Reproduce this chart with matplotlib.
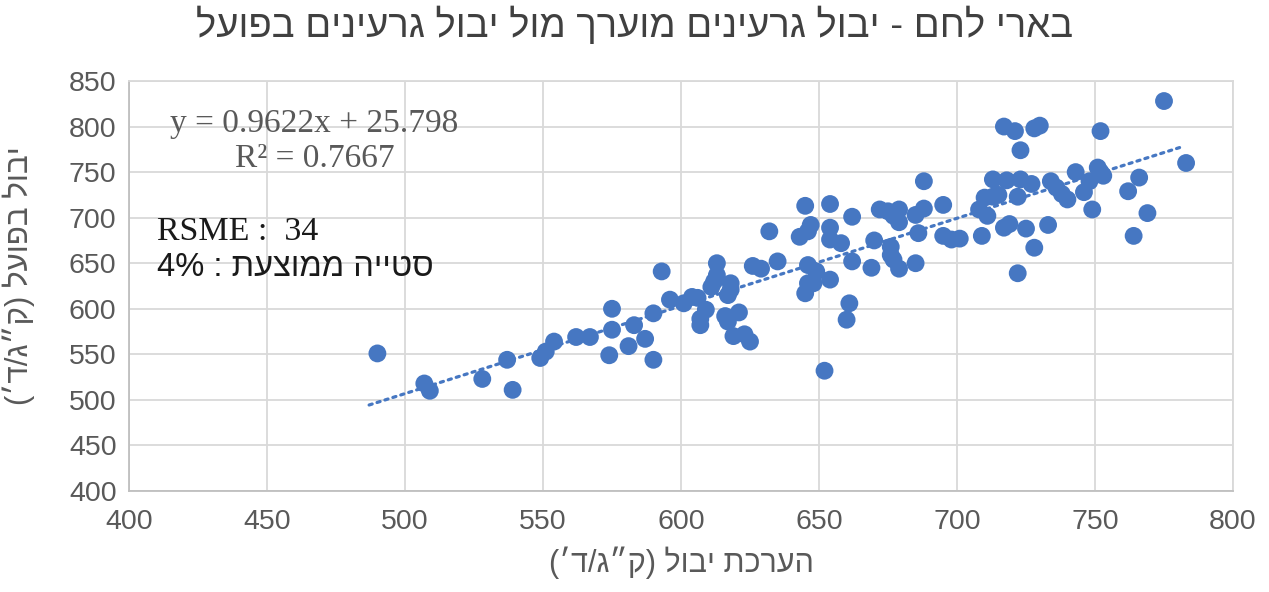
import re
import numpy as np
import matplotlib
matplotlib.use('Agg')
import matplotlib.pyplot as plt

# estimated vs. actual grain yield (kg/dunam)
est_yield = [490, 507, 509, 528, 537, 539, 549, 551, 554, 562, 567, 575, 575, 574,
             583, 581, 587, 590, 590, 593, 596, 601, 604, 606, 609, 607, 607, 613,
             613, 612, 611, 618, 618, 617, 616, 621, 617, 619, 623, 625, 626, 629,
             635, 632, 646, 649, 646, 648, 645, 654, 643, 646, 647, 645, 654, 654,
             654, 652, 661, 660, 662, 662, 658, 670, 669, 672, 675, 679, 677, 679,
             676, 676, 677, 679, 685, 688, 688, 695, 686, 685, 695, 698, 701, 709,
             708, 711, 710, 713, 715, 713, 718, 723, 727, 722, 723, 717, 721, 728,
             730, 752, 775, 783, 734, 736, 738, 740, 743, 751, 752, 753, 748, 746,
             749, 766, 762, 769, 764, 717, 719, 725, 733, 728, 722]
act_yield = [551, 518, 510, 523, 544, 511, 546, 553, 564, 569, 569, 600, 577, 549,
             582, 559, 567, 595, 544, 641, 610, 606, 613, 612, 599, 589, 582, 650,
             637, 630, 624, 628, 621, 615, 592, 596, 586, 570, 572, 564, 647, 644,
             652, 685, 648, 641, 628, 628, 617, 632, 679, 685, 692, 713, 689, 676,
             715, 532, 606, 588, 652, 701, 672, 675, 645, 709, 707, 709, 702, 695,
             668, 659, 654, 644, 703, 710, 740, 714, 683, 650, 680, 676, 677, 680,
             709, 702, 722, 723, 725, 742, 741, 742, 737, 723, 774, 800, 795, 798,
             801, 795, 828, 760, 740, 733, 726, 720, 750, 755, 750, 746, 740, 728,
             709, 744, 729, 705, 680, 689, 693, 688, 692, 667, 639]

# linear trendline reported for the fit
slope = 0.9622
intercept = 25.798
r_squared = 0.7667
rsme = 34
mean_dev = 4

ticks = [400, 450, 500, 550, 600, 650, 700, 750, 800, 850]

title = 'בארי לחם - יבול גרעינים מוערך מול יבול גרעינים בפועל'
x_label = 'הערכת יבול (ק״ג/ד׳)'
y_label = 'יבול בפועל (ק״ג/ד׳)'
dev_label = 'סטייה ממוצעת : {}%'.format(mean_dev)


def rtl(s):
    # matplotlib has no bidi support: put hebrew text into visual order
    parts = re.findall(r'[A-Za-z0-9%.]+|[^A-Za-z0-9%.]+', s)
    out = []
    for p in reversed(parts):
        if re.match(r'[A-Za-z0-9%.]', p):
            out.append(p)
        else:
            rev = p[::-1]
            rev = rev.translate(str.maketrans('()', ')('))
            out.append(rev)
    return ''.join(out)


sans = ['Liberation Sans', 'DejaVu Sans']
serif = ['Liberation Serif', 'DejaVu Serif']
plt.rcParams['font.family'] = sans

blue = '#4677c2'
grey = '#595959'
grid_col = '#d9d9d9'

fig = plt.figure(figsize=(12.69, 5.92), dpi=100)
ax = fig.add_axes([129 / 1269, 1 - 491 / 592, 1104 / 1269, 410 / 592])

ax.scatter(est_yield, act_yield, s=165, color=blue, edgecolors='none', zorder=3)

xs = np.array([487, 781])
ax.plot(xs, slope * xs + intercept, color=blue, lw=2.3,
        linestyle=(0, (1, 1.6)), dash_capstyle='round', zorder=2)

ax.set_xlim(400, 800)
ax.set_ylim(400, 850)
ax.set_xticks(ticks[:-1])
ax.set_yticks(ticks)
ax.grid(True, color=grid_col, lw=1.3, zorder=0)
ax.set_axisbelow(True)
for sp in ax.spines.values():
    sp.set_color(grid_col)
    sp.set_linewidth(1.3)
ax.spines['left'].set_color('#bfbfbf')
ax.spines['bottom'].set_color('#bfbfbf')
ax.tick_params(length=0, labelsize=20.5, labelcolor=grey)
ax.tick_params(axis='x', pad=13)
ax.tick_params(axis='y', pad=9)

ax.set_xlabel(rtl(x_label), fontsize=22, color=grey, labelpad=8)
ax.set_ylabel(rtl(y_label), fontsize=22.5, color=grey)
ax.yaxis.set_label_coords(-0.085, 0.525)

fig.text(0.5, 0.957, rtl(title), ha='center', va='center', fontsize=27.5,
         color='#404040')

eq = 'y = {}x + {}\nR² = {}'.format(slope, intercept, r_squared)
ax.text(0.168, 0.853, eq, transform=ax.transAxes, ha='center', va='center',
        multialignment='center', family=serif, fontsize=24, color=grey,
        linespacing=1.18)
ax.text(0.025, 0.632, 'RSME :  {}'.format(rsme), transform=ax.transAxes,
        ha='left', va='center', family=serif, fontsize=24.5, color='#1a1a1a')
ax.text(0.025, 0.544, rtl(dev_label), transform=ax.transAxes,
        ha='left', va='center', fontsize=23.5, color='#1a1a1a')

fig.savefig('out.png', dpi=100, facecolor='white')
